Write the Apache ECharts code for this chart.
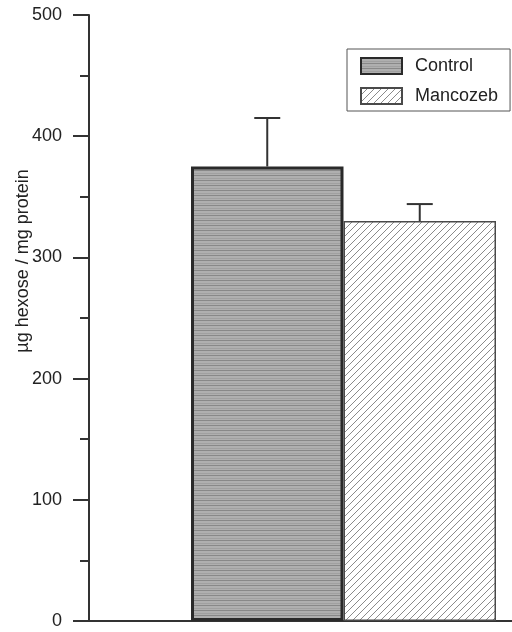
<!DOCTYPE html>
<html>
<head>
<meta charset="utf-8">
<script src="https://cdn.jsdelivr.net/npm/echarts@6/dist/echarts.min.js"></script>
<style>html,body{margin:0;padding:0;background:#fff}#c{width:512px;height:632px}</style>
</head>
<body>
<div id="c"></div>
<script>
// Data
var categories = ['Control', 'Mancozeb'];
var means = [375, 330];
var errors = [40, 14];
var yTicks = [0, 100, 200, 300, 400, 500];
var yAxisTitle = 'µg hexose / mg protein';

function makePattern(kind) {
  var cv = document.createElement('canvas');
  var ctx = cv.getContext('2d');
  if (kind === 'h') {
    cv.width = 8; cv.height = 5;
    ctx.fillStyle = '#afafaf'; ctx.fillRect(0, 0, 8, 5);
    ctx.fillStyle = '#888888'; ctx.fillRect(0, 0, 8, 1);
    ctx.fillStyle = '#a0a0a0'; ctx.fillRect(0, 3, 8, 1);
  } else {
    var s = 7;
    cv.width = s; cv.height = s;
    ctx.fillStyle = '#ffffff'; ctx.fillRect(0, 0, s, s);
    ctx.strokeStyle = '#8a8a8a'; ctx.lineWidth = 1;
    ctx.beginPath();
    ctx.moveTo(-1, s + 1); ctx.lineTo(s + 1, -1);
    ctx.moveTo(-1, 1); ctx.lineTo(1, -1);
    ctx.moveTo(s - 1, s + 1); ctx.lineTo(s + 1, s - 1);
    ctx.stroke();
  }
  return { image: cv, repeat: 'repeat' };
}

var styles = [
  { color: makePattern('h'), borderColor: '#2a2a2a', borderWidth: 3 },
  { color: makePattern('d'), borderColor: '#4a4a4a', borderWidth: 1.5 }
];

var chart = echarts.init(document.getElementById('c'), null, { renderer: 'canvas' });

var barSeries = categories.map(function (name, i) {
  return {
    name: name,
    type: 'bar',
    xAxisIndex: 0,
    yAxisIndex: 0,
    barGap: '-100%',
    barWidth: '100%',
    data: categories.map(function (c, j) { return j === i ? means[i] : '-'; }),
    itemStyle: styles[i],
    z: 2
  };
});

var errData = categories.map(function (c, i) { return [i, means[i], errors[i]]; });

var option = {
  animation: false,
  textStyle: { fontFamily: 'Liberation Sans, Arial, sans-serif' },
  grid: [
    { left: 191, right: 16, top: 15, bottom: 11 },
    { left: 89, right: 0, top: 15, bottom: 11 }
  ],
  legend: {
    orient: 'vertical',
    left: 347,
    top: 49,
    data: categories,
    itemWidth: 41,
    itemHeight: 16,
    itemGap: 12,
    padding: [8, 12, 6, 13],
    borderColor: '#555',
    borderWidth: 1,
    icon: 'rect',
    textStyle: { fontSize: 18, color: '#222', padding: [0, 0, 0, 8] }
  },
  xAxis: [
    { type: 'category', gridIndex: 0, data: categories, show: false },
    { type: 'value', gridIndex: 1, min: 0, max: 1,
      axisLine: { show: true, lineStyle: { color: '#333', width: 2 } },
      axisTick: { show: false }, axisLabel: { show: false }, splitLine: { show: false } }
  ],
  yAxis: [
    { type: 'value', gridIndex: 0, min: 0, max: 500, interval: 100, show: false },
    { type: 'value', gridIndex: 1, min: 0, max: 500, interval: 100,
      name: yAxisTitle, nameLocation: 'middle', nameGap: 57, nameMoveOverlap: false,
      nameTextStyle: { fontSize: 18, color: '#222', padding: [0, 0, 0, 114] },
      axisLine: { show: true, lineStyle: { color: '#333', width: 2 } },
      axisTick: { show: true, length: 16, lineStyle: { color: '#333', width: 2 } },
      minorTick: { show: true, splitNumber: 2, length: 9, lineStyle: { color: '#333', width: 2 } },
      axisLabel: { fontSize: 18, color: '#222', margin: 27,
        formatter: function (v) { return yTicks.indexOf(v) >= 0 ? String(v) : ''; } },
      splitLine: { show: false }
    }
  ],
  series: barSeries.concat([{
    type: 'custom',
    xAxisIndex: 0,
    yAxisIndex: 0,
    z: 3,
    data: errData,
    renderItem: function (params, api) {
      var x = api.value(0), m = api.value(1), e = api.value(2);
      var p0 = api.coord([x, m]);
      var p1 = api.coord([x, m + e]);
      var hw = 13;
      var st = { stroke: '#333', lineWidth: 2 };
      return {
        type: 'group',
        children: [
          { type: 'line', shape: { x1: p0[0], y1: p0[1], x2: p1[0], y2: p1[1] }, style: st },
          { type: 'line', shape: { x1: p1[0] - hw, y1: p1[1], x2: p1[0] + hw, y2: p1[1] }, style: st }
        ]
      };
    }
  }])
};
chart.setOption(option);
</script>
</body>
</html>
